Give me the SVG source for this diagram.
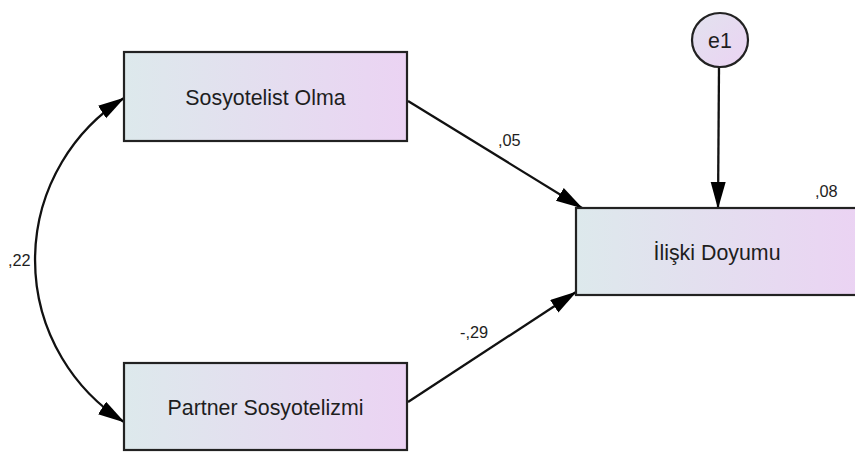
<svg xmlns="http://www.w3.org/2000/svg" width="855" height="452" viewBox="0 0 855 452">
<style>
.box{stroke:#222;stroke-width:2.2}
.lbl{font-family:"Liberation Sans",Arial,sans-serif;font-size:22.5px;fill:#1e1e1e;text-anchor:middle}
.num{font-family:"Liberation Sans",Arial,sans-serif;font-size:17px;fill:#1e1e1e}
.edge{fill:none;stroke:#111;stroke-width:2.3}
</style>
<defs>
<linearGradient id="g" x1="0" y1="0" x2="1" y2="0">
<stop offset="0" stop-color="#dde9ec"/>
<stop offset="1" stop-color="#ebd3f3"/>
</linearGradient>
<linearGradient id="gc" x1="0" y1="0" x2="1" y2="1">
<stop offset="0" stop-color="#e2e2ee"/>
<stop offset="1" stop-color="#ebd3f3"/>
</linearGradient>
<marker id="ah" markerUnits="userSpaceOnUse" markerWidth="28" markerHeight="16" refX="26" refY="7.5" orient="auto-start-reverse">
<path d="M0,0 L27,7.5 L0,15 z" fill="#000"/>
</marker>
</defs>
<g id="connectors">
<path class="edge" d="M124,98 A192,192 0 0 0 124,422" marker-start="url(#ah)" marker-end="url(#ah)"/>
<line class="edge" x1="408" y1="101" x2="582" y2="208" marker-end="url(#ah)"/>
<line class="edge" x1="408" y1="402" x2="576" y2="292" marker-end="url(#ah)"/>
<line class="edge" x1="719" y1="67" x2="718" y2="208" marker-end="url(#ah)"/>
<text class="num" transform="translate(8,266) scale(0.96,1)">,22</text>
<text class="num" transform="translate(498,146) scale(0.96,1)">,05</text>
<text class="num" transform="translate(460,338) scale(0.96,1)">-,29</text>
</g>
<g id="sosyotelist">
<rect class="box" x="124" y="52" width="283" height="89" fill="url(#g)"/>
<text class="lbl" transform="translate(265.5,104.5) scale(0.95,1)">Sosyotelist Olma</text>
</g>
<g id="partner">
<rect class="box" x="124" y="363" width="283" height="87" fill="url(#g)"/>
<text class="lbl" transform="translate(265.5,414.5) scale(0.95,1)">Partner Sosyotelizmi</text>
</g>
<g id="iliski">
<rect class="box" x="576" y="208" width="283" height="87" fill="url(#g)"/>
<text class="lbl" transform="translate(717,259.5) scale(0.95,1)">İlişki Doyumu</text>
<text class="num" transform="translate(815,197) scale(0.96,1)">,08</text>
</g>
<g id="e1">
<ellipse class="box" cx="720" cy="40" rx="28" ry="27" fill="url(#gc)"/>
<text class="lbl" transform="translate(720,48) scale(0.95,1)">e1</text>
</g>
</svg>
